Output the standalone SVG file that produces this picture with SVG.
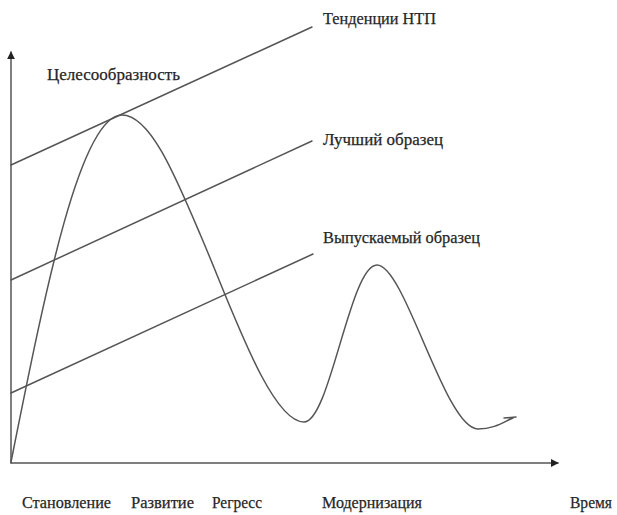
<svg xmlns="http://www.w3.org/2000/svg" width="617" height="515" viewBox="0 0 617 515">
<style>
.ln{fill:none;stroke:#555;stroke-width:1.5;stroke-linecap:round}
.t{font-family:"Liberation Serif","Times New Roman",serif;font-size:17px;fill:#262626;stroke:#262626;stroke-width:0.25}
</style>
<defs>
<marker id="ah" viewBox="0 0 10 10" refX="9" refY="5" markerWidth="8" markerHeight="8" markerUnits="userSpaceOnUse" orient="auto">
<path d="M0,0 L10,5 L0,10 z" fill="#222"/>
</marker>
</defs>
<rect width="617" height="515" fill="#fff"/>
<g id="connectors">
<line class="ln" x1="11" y1="463" x2="11" y2="52" marker-end="url(#ah)"/>
<line class="ln" x1="11" y1="463" x2="558" y2="463" marker-end="url(#ah)"/>
<line id="trend" class="ln" x1="11" y1="165" x2="312" y2="27"/>
<line id="best" class="ln" x1="11" y1="280" x2="312" y2="141"/>
<line id="released" class="ln" x1="11" y1="393" x2="313" y2="254"/>
<path id="curve" class="ln" d="M11,462 C45,292 80,115 122,115 C150,115 175,175 200,234 C230,303 270,422 304,422 C330,422 350,265 377,265 C405,265 445,429 478,429 C495,429 505,421 513,418 M504,418 L516,417"/>
</g>
<g id="labels">
<text class="t" x="47" y="80" textLength="133" lengthAdjust="spacingAndGlyphs">Целесообразность</text>
<text class="t" x="323" y="24" textLength="113" lengthAdjust="spacingAndGlyphs">Тенденции НТП</text>
<text class="t" x="323" y="145" textLength="120" lengthAdjust="spacingAndGlyphs">Лучший образец</text>
<text class="t" x="323" y="243" textLength="157" lengthAdjust="spacingAndGlyphs">Выпускаемый образец</text>
<text class="t" x="22" y="508" textLength="89" lengthAdjust="spacingAndGlyphs">Становление</text>
<text class="t" x="131" y="508" textLength="63" lengthAdjust="spacingAndGlyphs">Развитие</text>
<text class="t" x="212" y="508" textLength="50" lengthAdjust="spacingAndGlyphs">Регресс</text>
<text class="t" x="322" y="508" textLength="100" lengthAdjust="spacingAndGlyphs">Модернизация</text>
<text class="t" x="570" y="508" textLength="42" lengthAdjust="spacingAndGlyphs">Время</text>
</g>
</svg>
